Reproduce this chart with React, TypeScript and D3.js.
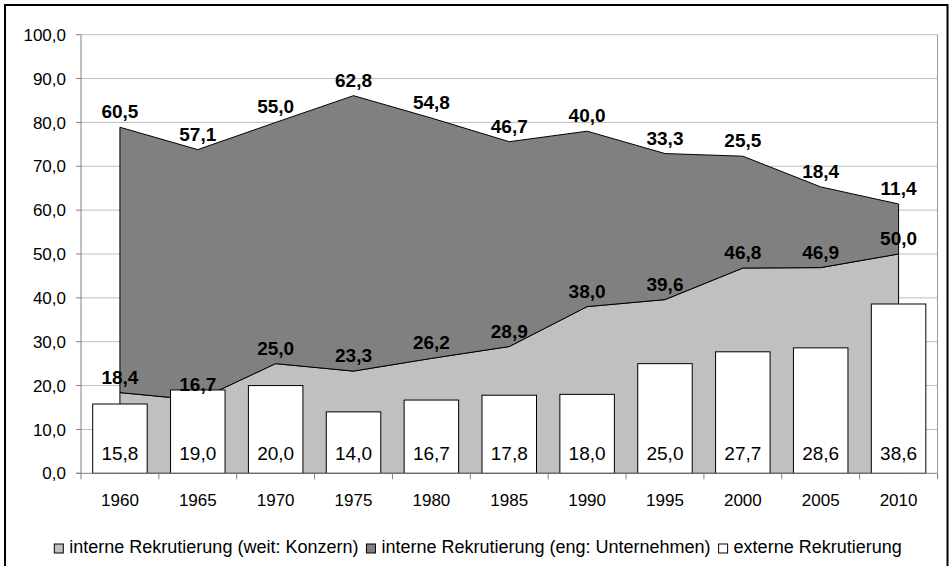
import React from "react";
import * as d3 from "d3";

// Recruitment shares by year (percent)
const years = ["1960", "1965", "1970", "1975", "1980", "1985", "1990", "1995", "2000", "2005", "2010"];
const interneWeit = [18.4, 16.7, 25.0, 23.3, 26.2, 28.9, 38.0, 39.6, 46.8, 46.9, 50.0];
const interneEng = [60.5, 57.1, 55.0, 62.8, 54.8, 46.7, 40.0, 33.3, 25.5, 18.4, 11.4];
const externe = [15.8, 19.0, 20.0, 14.0, 16.7, 17.8, 18.0, 25.0, 27.7, 28.6, 38.6];
const yTicks = [0, 10, 20, 30, 40, 50, 60, 70, 80, 90, 100];
const seriesNames = [
  "interne Rekrutierung (weit: Konzern)",
  "interne Rekrutierung (eng: Unternehmen)",
  "externe Rekrutierung",
];

const W = 952;
const H = 566;
const FONT = "'Liberation Sans', Arial, sans-serif";
const plot = { left: 81, right: 937.5, top: 34.7, bottom: 473.3 };

const locale = d3.formatLocale({ decimal: ",", thousands: ".", grouping: [3], currency: ["", " €"] });
const fmt = locale.format(".1f");

const measureCtx = typeof document !== "undefined" ? document.createElement("canvas").getContext("2d") : null;
function textWidth(s: string, font: string) {
  if (!measureCtx) return s.length * 9;
  measureCtx.font = font;
  return measureCtx.measureText(s).width;
}

export default function App() {
  const x = d3.scaleBand<string>().domain(years).range([plot.left, plot.right]).padding(0);
  const y = d3.scaleLinear().domain([0, 100]).range([plot.bottom, plot.top]);
  const bw = x.bandwidth();
  const cx = (yr: string) => (x(yr) as number) + bw / 2;

  const rows = years.map((yr, i) => ({ year: yr, weit: interneWeit[i], eng: interneEng[i] }));
  const stacked = d3.stack<any>().keys(["weit", "eng"])(rows);

  const area = d3
    .area<any>()
    .x((d) => cx(d.data.year))
    .y0((d) => y(d[0]))
    .y1((d) => y(d[1]));

  const areaFills = ["#c0c0c0", "#808080"];
  const legendFills = ["#c0c0c0", "#808080", "#ffffff"];

  // legend layout, centered under the plot
  const legendFontSize = 18;
  const legendFont = `${legendFontSize}px 'Liberation Sans', Arial, sans-serif`;
  const sq = 9;
  const sqGap = 6;
  const itemGap = 8;
  const widths = seriesNames.map((s) => textWidth(s, legendFont));
  const total = widths.reduce((a, b) => a + b, 0) + seriesNames.length * (sq + sqGap) + (seriesNames.length - 1) * itemGap;
  let lx = 478 - total / 2;
  const legendItems = seriesNames.map((s, i) => {
    const item = { name: s, x: lx, fill: legendFills[i] };
    lx += sq + sqGap + widths[i] + itemGap;
    return item;
  });
  const legendBaseline = 553;

  return (
    <svg
      width={W}
      height={H}
      style={{ position: "absolute", left: 0, top: 0, display: "block", background: "#fff" }}
      fontFamily={FONT}
    >
      <rect x={5} y={5} width={942.5} height={570} fill="#fff" stroke="#000" strokeWidth={2} />

      {/* gridlines */}
      {yTicks.slice(1).map((t) => (
        <line key={t} x1={plot.left} x2={plot.right} y1={y(t)} y2={y(t)} stroke="#bdbdbd" strokeWidth={1} />
      ))}
      <line x1={plot.right} x2={plot.right} y1={plot.top} y2={plot.bottom} stroke="#9a9a9a" strokeWidth={1} />

      {/* stacked areas */}
      {stacked.map((s, i) => (
        <path key={s.key} d={area(s) as string} fill={areaFills[i]} stroke="#000" strokeWidth={1} />
      ))}

      {/* bars */}
      {externe.map((v, i) => (
        <rect
          key={years[i]}
          x={(x(years[i]) as number) + bw * 0.15}
          y={y(v)}
          width={bw * 0.7}
          height={y(0) - y(v)}
          fill="#fff"
          stroke="#000"
          strokeWidth={1}
        />
      ))}

      {/* axes */}
      <line x1={plot.left} x2={plot.left} y1={plot.top} y2={plot.bottom} stroke="#808080" strokeWidth={1} />
      <line x1={plot.left - 5} x2={plot.right} y1={plot.bottom} y2={plot.bottom} stroke="#808080" strokeWidth={1} />
      {yTicks.map((t) => (
        <g key={t}>
          <line x1={plot.left - 5} x2={plot.left} y1={y(t)} y2={y(t)} stroke="#808080" />
          <text x={66} y={y(t)} dy="0.36em" textAnchor="end" fontSize={17} fill="#000">
            {fmt(t)}
          </text>
        </g>
      ))}
      {years.concat(["end"]).map((yr, i) => {
        const xx = plot.left + i * bw;
        return <line key={yr} x1={xx} x2={xx} y1={plot.bottom} y2={plot.bottom + 6} stroke="#808080" />;
      })}
      {years.map((yr) => (
        <text key={yr} x={cx(yr)} y={505.5} textAnchor="middle" fontSize={17} fill="#000">
          {yr}
        </text>
      ))}

      {/* value labels */}
      {externe.map((v, i) => (
        <text key={years[i]} x={cx(years[i])} y={y(0) - 13} textAnchor="middle" fontSize={19} fill="#000">
          {fmt(v)}
        </text>
      ))}
      {stacked.map((s) =>
        s.map((d: any, i: number) => (
          <text
            key={s.key + years[i]}
            x={cx(years[i])}
            y={y(d[1]) - 9}
            textAnchor="middle"
            fontSize={19}
            fontWeight="bold"
            fill="#000"
          >
            {fmt(d[1] - d[0])}
          </text>
        ))
      )}

      {/* legend */}
      {legendItems.map((it) => (
        <g key={it.name}>
          <rect x={it.x} y={legendBaseline - sq} width={sq} height={sq} fill={it.fill} stroke="#000" strokeWidth={1} />
          <text x={it.x + sq + sqGap} y={legendBaseline} fontSize={legendFontSize} fill="#000">
            {it.name}
          </text>
        </g>
      ))}
    </svg>
  );
}
